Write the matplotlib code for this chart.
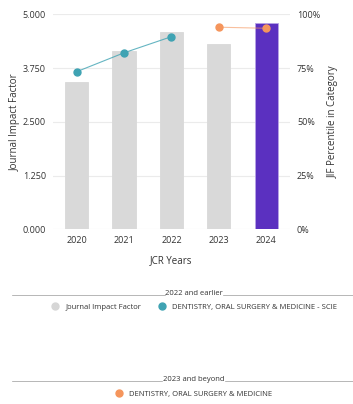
import numpy as np
import matplotlib.pyplot as plt
from matplotlib.lines import Line2D

years = ['2020', '2021', '2022', '2023', '2024']
jif = [3.42, 4.15, 4.60, 4.30, 4.79]
pct_old_years = ['2020', '2021', '2022']
pct_old = [73.3, 82.1, 89.6]
pct_new_years = ['2023', '2024']
pct_new = [94.0, 93.5]
jif_ticks = [0, 1.25, 2.5, 3.75, 5.0]
pct_ticks = [0, 25, 50, 75, 100]

plt.rcParams['font.family'] = ['Open Sans', 'DejaVu Sans']
txt = '#333333'
grey = '#d9d9d9'
purple = '#5b30c0'
teal = '#3fa3b3'
orange = '#f5955c'

fig = plt.figure(figsize=(3.53, 4.04), dpi=100)
ax = fig.add_axes([0.150, 0.4324, 0.6715, 0.5322])

x = np.arange(len(years))
cols = [grey] * (len(years) - 1) + [purple]
edges = [grey] * (len(years) - 1) + ['#b7a3e6']
ax.bar(x, jif, width=0.49, color=cols, edgecolor=edges, linewidth=0.6, zorder=2)
ax.set_ylim(0, 5)
ax.set_xlim(-0.5, len(years) - 0.5)
ax.set_yticks(jif_ticks)
ax.set_yticklabels(['%.3f' % v for v in jif_ticks])
ax.set_xticks(x)
ax.set_xticklabels(years)
ax.grid(axis='y', color='#ebebeb', linewidth=0.8, zorder=0)
ax.set_axisbelow(True)
ax.tick_params(length=0, labelsize=6.5, colors=txt, pad=5)
ax.set_ylabel('Journal Impact Factor', fontsize=7, color=txt, labelpad=1.5)
ax.set_xlabel('JCR Years', fontsize=7, color=txt, labelpad=7)
for s in ax.spines.values():
    s.set_visible(False)

ax2 = ax.twinx()
xo = [years.index(y) for y in pct_old_years]
xn = [years.index(y) for y in pct_new_years]
ax2.plot(xo, pct_old, color=teal, lw=0.8, alpha=0.8, zorder=3)
ax2.plot(xo, pct_old, 'o', color=teal, ms=5, zorder=4)
ax2.plot(xn, pct_new, color=orange, lw=0.8, alpha=0.6, zorder=3)
ax2.plot(xn, pct_new, 'o', color=orange, ms=5, zorder=4)
ax2.set_ylim(0, 100)
ax2.set_yticks(pct_ticks)
ax2.set_yticklabels(['%d%%' % v for v in pct_ticks])
ax2.tick_params(length=0, labelsize=6.5, colors=txt, pad=5)
ax2.set_ylabel('JIF Percentile in Category', fontsize=7, color=txt, labelpad=5.5)
for s in ax2.spines.values():
    s.set_visible(False)


def header(label, ypix, x0, x1):
    y = 1 - ypix / 404
    fig.text(194 / 353, y, label, ha='center', va='baseline', fontsize=5.5, color=txt)
    for a, b in [(12, x0), (x1, 353)]:
        fig.add_artist(Line2D([a / 353, b / 353], [y, y], color='#9a9a9a', lw=0.5))


header('2022 and earlier', 295, 165, 223)
header('2023 and beyond', 381, 162, 225)

h1 = [Line2D([], [], marker='o', ls='', color='#d6d6d6', ms=5),
      Line2D([], [], marker='o', ls='', color=teal, ms=5)]
fig.legend(h1, ['Journal Impact Factor', 'DENTISTRY, ORAL SURGERY & MEDICINE - SCIE'],
           loc='center', bbox_to_anchor=(194 / 353, 1 - 307 / 404), ncol=2,
           frameon=False, fontsize=5.5, handletextpad=0.8, columnspacing=2.2,
           labelcolor=txt, handlelength=1)
h2 = [Line2D([], [], marker='o', ls='', color=orange, ms=5)]
fig.legend(h2, ['DENTISTRY, ORAL SURGERY & MEDICINE'],
           loc='center', bbox_to_anchor=(194 / 353, 1 - 394 / 404), ncol=1,
           frameon=False, fontsize=5.5, handletextpad=0.8,
           labelcolor=txt, handlelength=1)

fig.savefig('out.png', dpi=100)
